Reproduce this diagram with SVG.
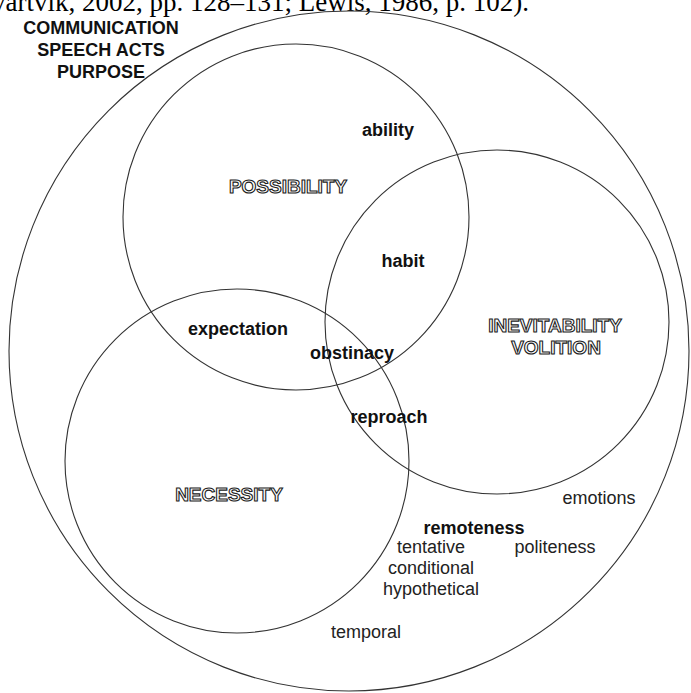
<svg xmlns="http://www.w3.org/2000/svg" width="691" height="693" viewBox="0 0 691 693">
<style>
.c{fill:none;stroke:#333;stroke-width:1.1}
.b{font-family:"Liberation Sans",Arial,sans-serif;font-weight:bold;font-size:18px;fill:#111;text-anchor:middle}
.r{font-family:"Liberation Sans",Arial,sans-serif;font-size:18px;fill:#222;text-anchor:middle}
.o{font-family:"Liberation Sans",Arial,sans-serif;font-weight:bold;font-size:19px;fill:#fff;stroke:#222;stroke-width:1.1;text-anchor:middle}
.s{font-family:"Liberation Serif","Times New Roman",serif;font-size:27px;fill:#000;text-anchor:end}
</style>
<rect width="691" height="693" fill="#fff"/>
<text class="s" x="529" y="11">Svartvik, 2002, pp. 128–131; Lewis, 1986, p. 102).</text>
<g id="communication">
<circle class="c" cx="349" cy="351" r="340"/>
<text class="b" x="101" y="34">COMMUNICATION</text>
<text class="b" x="101" y="56">SPEECH ACTS</text>
<text class="b" x="101" y="78">PURPOSE</text>
</g>
<g id="possibility">
<circle class="c" cx="296" cy="217" r="173"/>
<text class="o" x="288" y="193">POSSIBILITY</text>
</g>
<g id="inevitability">
<circle class="c" cx="497" cy="322" r="172"/>
<text class="o" x="555" y="332">INEVITABILITY</text>
<text class="o" x="556" y="354">VOLITION</text>
</g>
<g id="necessity">
<circle class="c" cx="237" cy="461" r="172"/>
<text class="o" x="229" y="501">NECESSITY</text>
</g>
<g id="labels">
<text class="b" x="388" y="136">ability</text>
<text class="b" x="403" y="267">habit</text>
<text class="b" x="238" y="335">expectation</text>
<text class="b" x="352" y="359">obstinacy</text>
<text class="b" x="389" y="423">reproach</text>
<text class="b" x="474" y="534">remoteness</text>
<text class="r" x="431" y="553">tentative</text>
<text class="r" x="555" y="553">politeness</text>
<text class="r" x="431" y="574">conditional</text>
<text class="r" x="431" y="595">hypothetical</text>
<text class="r" x="599" y="504">emotions</text>
<text class="r" x="366" y="638">temporal</text>
</g>
</svg>
